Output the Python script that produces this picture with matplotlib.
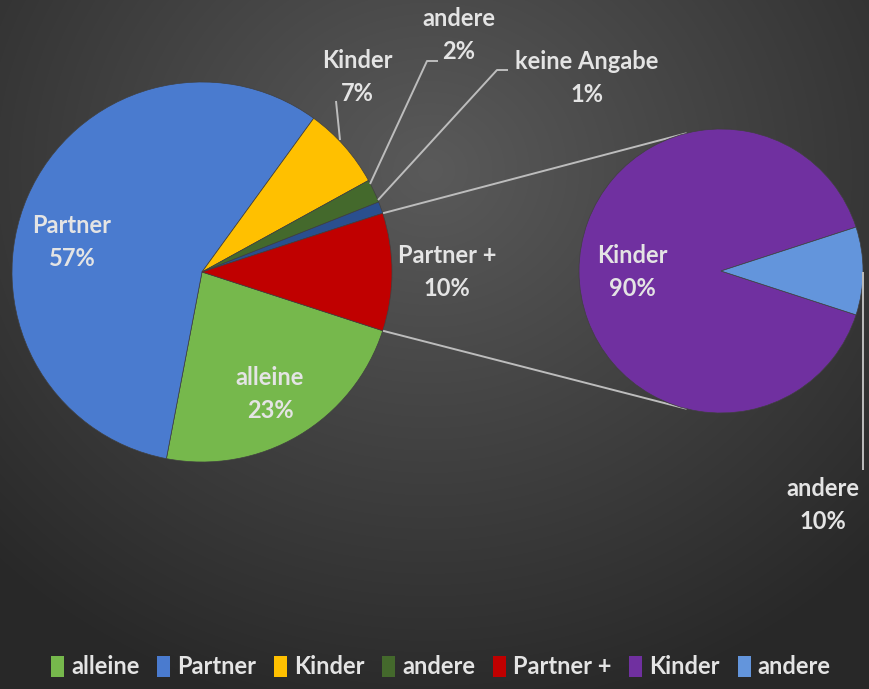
import numpy as np
import matplotlib
matplotlib.use("Agg")
import matplotlib.pyplot as plt

W, H = 870, 689

# main pie
main_labels = ["alleine", "Partner", "Kinder", "andere", "keine Angabe", "Partner +"]
main_values = [23, 57, 7, 2, 1, 10]
main_colors = ["#76b84c", "#4a7bcf", "#ffc000", "#44692c", "#2a4f8f", "#c00000"]

# secondary pie (breakdown of "Partner +")
sub_labels = ["Kinder", "andere"]
sub_values = [90, 10]
sub_colors = ["#7030a0", "#6395dc"]

TXT = "#e4e4e4"
LINE = "#bdbdbd"
FONT = "Lato"


def py(y):
    # pixel row (top origin) -> data y
    return H - y


fig = plt.figure(figsize=(W / 100, H / 100), dpi=100)
ax = fig.add_axes([0, 0, 1, 1])

# background: soft radial gradient
yy, xx = np.mgrid[0:H, 0:W]
d = np.sqrt(((xx - 430) / 620.0) ** 2 + ((yy - 170) / 560.0) ** 2)
d = np.clip(d, 0, 1)
top, bot = np.array([0x5a, 0x5a, 0x5a]) / 255, np.array([0x28, 0x28, 0x28]) / 255
bg = top[None, None, :] * (1 - d[..., None]) + bot[None, None, :] * d[..., None]
ax.imshow(bg, extent=(0, W, 0, H), origin="upper", zorder=0, aspect="auto")

c1, r1 = (202, py(272)), 190
c2, r2 = (721, py(271)), 142

half = main_values[-1] / 100 * 360 / 2
w1, _ = ax.pie(main_values, colors=main_colors, startangle=-half, counterclock=False,
               center=c1, radius=r1, wedgeprops=dict(linewidth=0.5, edgecolor="#404040"))
sub_half = sub_values[-1] / 100 * 360 / 2
w2, _ = ax.pie(sub_values, colors=sub_colors, startangle=sub_half, counterclock=True,
               center=c2, radius=r2, wedgeprops=dict(linewidth=0.5, edgecolor="#404040"))
for w in list(w1) + list(w2):
    w.set_zorder(3)

# connector lines between the pies
for s in (1, -1):
    a1 = np.deg2rad(s * half)
    a2 = np.deg2rad(s * 104)
    ax.plot([c1[0] + r1 * np.cos(a1), c2[0] + r2 * np.cos(a2)],
            [c1[1] + r1 * np.sin(a1), c2[1] + r2 * np.sin(a2)],
            color=LINE, lw=1.4, zorder=2, solid_capstyle="butt")

# leader lines for outside labels
leaders = [
    [(340, 140), (336, 101)],
    [(370, 184), (427, 61), (438, 61)],
    [(378, 200), (497, 70), (508, 70)],
    [(863, 272), (863, 470)],
]
for pts in leaders:
    ax.plot([p[0] for p in pts], [py(p[1]) for p in pts], color=LINE, lw=1.4,
            zorder=4, solid_capstyle="butt")

fs = 17
label_pos = {
    "Partner": (72, 242, "57%"),
    "alleine": (270, 394, "23%"),
    "Partner +": (447, 272, "10%"),
    "Kinder": (357, 77, "7%"),
    "andere": (459, 35, "2%"),
    "keine Angabe": (587, 78, "1%"),
}
for name, (x, y, pct) in label_pos.items():
    ax.text(x, py(y), f"{name}\n{pct}", ha="center", va="center", color=TXT,
            fontsize=fs, fontweight="bold", family=FONT, linespacing=1.5, zorder=5)
ax.text(632, py(272), "Kinder\n90%", ha="center", va="center", color=TXT,
        fontsize=fs, fontweight="bold", family=FONT, linespacing=1.5, zorder=5)
ax.text(823, py(505), "andere\n10%", ha="center", va="center", color=TXT,
        fontsize=fs, fontweight="bold", family=FONT, linespacing=1.5, zorder=5)

handles = [w1[0], w1[1], w1[2], w1[3], w1[5], w2[0], w2[1]]
leg_labels = ["alleine", "Partner", "Kinder", "andere", "Partner +", "Kinder", "andere"]
leg = ax.legend(handles, leg_labels, ncol=7, loc="center", bbox_to_anchor=(441 / W, 1 - 667 / H),
                frameon=False, handlelength=0.55, handleheight=1.0, handletextpad=0.3,
                columnspacing=0.75, borderpad=0, prop=dict(family=FONT, weight="bold", size=17))
for t in leg.get_texts():
    t.set_color(TXT)
for h in leg.legend_handles:
    h.set_edgecolor("none")

ax.set_xlim(0, W)
ax.set_ylim(0, H)
ax.set_aspect("auto")
ax.axis("off")

fig.savefig("out.png", dpi=100)
